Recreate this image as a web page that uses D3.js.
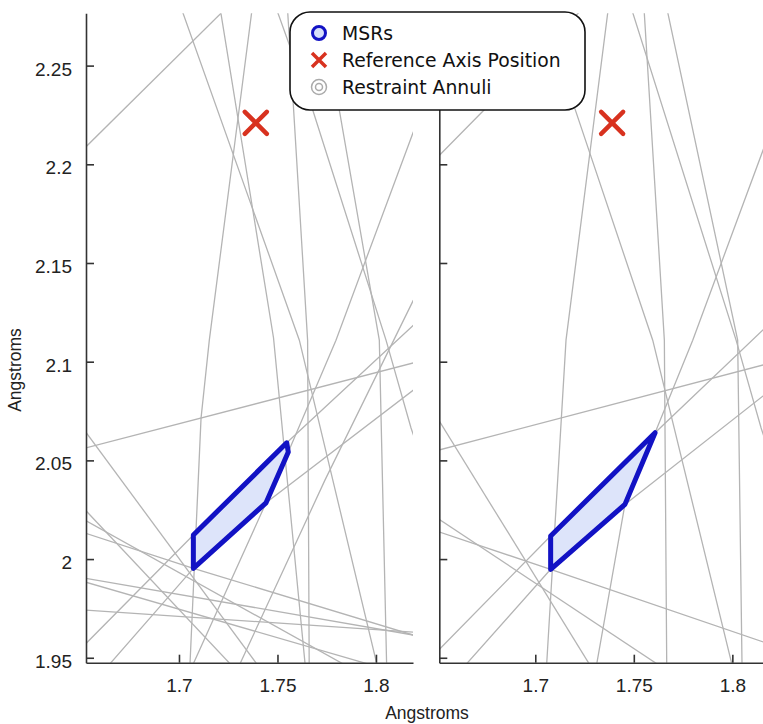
<!DOCTYPE html>
<html>
<head>
<meta charset="utf-8">
<script src="https://cdn.jsdelivr.net/npm/d3@7"></script>
<style>
  body { margin: 0; background: #fff; }
  svg { display: block; }
</style>
</head>
<body>
<div id="chart"></div>
<script>

// ---- data (Angstroms) ----
var yTicks = [1.95, 2, 2.05, 2.1, 2.15, 2.2, 2.25]
var yTickLabels = ["1.95", "2", "2.05", "2.1", "2.15", "2.2", "2.25"]
var xTicks = [1.7, 1.75, 1.8]
var xTickLabels = ["1.7", "1.75", "1.8"]

var refAxis = [1.739, 2.221]

var msrLeft = [[1.7073,1.9953],[1.7073,2.0122],[1.7547,2.0589],[1.7555,2.0542],[1.7442,2.0285]]
var msrRight = [[1.7078,1.9948],[1.7078,2.0117],[1.7608,2.0640],[1.7455,2.0277]]

// restraint annuli arcs, as polylines
var annuliLeft = [
  [[1.652,2.2081],[1.7213,2.2765]],
  [[1.7019,2.277],[1.7611,2.1109],[1.8004,1.947]],
  [[1.7213,2.2765],[1.7480,2.1120],[1.7640,1.947]],
  [[1.7369,2.277],[1.7154,2.1109],[1.7112,2.0714],[1.7056,1.947]],
  [[1.7501,2.277],[1.7679,2.2275],[1.8051,2.1109],[1.8178,2.0664],[1.8200,2.0600]],
  [[1.7552,2.277],[1.7653,2.1109],[1.7661,1.947]],
  [[1.7728,2.277],[1.7814,2.2275],[1.8017,2.1109],[1.8054,1.947]],
  [[1.819,2.2165],[1.7797,2.1109],[1.7555,2.0542],[1.7442,2.0285],[1.7242,1.9843],[1.7073,1.947]],
  [[1.652,2.0653],[1.7394,1.947]],
  [[1.652,2.0561],[1.819,2.0994]],
  [[1.652,2.0253],[1.7259,1.947]],
  [[1.652,2.0198],[1.7831,1.947]],
  [[1.652,2.0133],[1.7073,1.9953],[1.819,1.9615]],
  [[1.652,1.9904],[1.819,1.9615]],
  [[1.652,1.9885],[1.7954,1.947]],
  [[1.652,1.9742],[1.819,1.9630]],
  [[1.652,1.9564],[1.7073,2.0122],[1.7547,2.0589],[1.819,2.1185]],
  [[1.6650,1.947],[1.7073,1.9953],[1.7442,2.0285],[1.819,2.0856]],
  [[1.7310,1.947],[1.7741,2.0400],[1.819,2.1312]]
]

var annuliRight = [
  [[1.651,2.2042],[1.6745,2.2280],[1.7222,2.277]],
  [[1.7039,2.277],[1.7198,2.2291],[1.7596,2.1109],[1.7997,1.947]],
  [[1.7368,2.277],[1.7156,2.1109],[1.7058,1.947]],
  [[1.7494,2.277],[1.8019,2.1109],[1.8146,2.0664],[1.8200,2.0500]],
  [[1.7553,2.277],[1.7655,2.1109],[1.7667,1.947]],
  [[1.7672,2.277],[1.8027,2.1109],[1.8049,1.947]],
  [[1.8186,2.2153],[1.8156,2.2072],[1.7799,2.1109],[1.7608,2.0640],[1.7455,2.0277],[1.7312,1.947]],
  [[1.651,2.0704],[1.7273,1.947]],
  [[1.651,2.0552],[1.8186,2.0991]],
  [[1.651,2.0203],[1.7616,1.947]],
  [[1.651,2.0138],[1.7078,1.9948],[1.8186,1.9570]],
  [[1.651,1.9539],[1.7078,2.0117],[1.7608,2.0640],[1.8186,2.1190]],
  [[1.6652,1.947],[1.7078,1.9948],[1.7455,2.0277],[1.8186,2.0850]]
]

var legendLabels = ["MSRs", "Reference Axis Position", "Restraint Annuli"]

// ---- drawing ----
var width = 763, height = 724
var svg = d3.select("#chart").append("svg")
    .attr("width", width)
    .attr("height", height)
    .style("font-family", "'Liberation Sans', Arial, sans-serif")

var y = d3.scaleLinear().domain([1.9475, 2.2765]).range([662.7, 13.3])

var panels = [
  {x0: 86, x: d3.scaleLinear().domain([1.6528, 1.8188]).range([86, 413]), msr: msrLeft, lines: annuliLeft, labels: true},
  {x0: 439.3, x: d3.scaleLinear().domain([1.6513, 1.8186]).range([439.3, 769]), msr: msrRight, lines: annuliRight, labels: false}
]

var defs = svg.append("defs")

panels.forEach(function(p, i){
  var xr = p.x.range()
  defs.append("clipPath").attr("id", "clip" + i)
    .append("rect")
      .attr("x", xr[0]).attr("y", y.range()[1])
      .attr("width", xr[1] - xr[0]).attr("height", y.range()[0] - y.range()[1])

  var g = svg.append("g")

  var line = d3.line()
      .x(function(d){ return p.x(d[0]) })
      .y(function(d){ return y(d[1]) })

  var plot = g.append("g").attr("clip-path", "url(#clip" + i + ")")

  plot.selectAll("path.annulus")
    .data(p.lines)
    .enter().append("path")
      .attr("class", "annulus")
      .attr("fill", "none")
      .attr("stroke", "#b4b4b4")
      .attr("stroke-width", 1.3)
      .attr("d", line)

  plot.append("path")
    .datum(p.msr)
    .attr("fill", "#dde4fa")
    .attr("stroke", "#1212c4")
    .attr("stroke-width", 5)
    .attr("stroke-linejoin", "round")
    .attr("d", function(d){ return line(d) + "Z" })

  // reference axis X
  var cx = p.x(refAxis[0]), cy = y(refAxis[1]), s = 11
  plot.append("path")
    .attr("d", "M" + (cx - s) + "," + (cy - s) + "L" + (cx + s) + "," + (cy + s) +
               "M" + (cx - s) + "," + (cy + s) + "L" + (cx + s) + "," + (cy - s))
    .attr("stroke", "#d8321f")
    .attr("stroke-width", 4.5)
    .attr("stroke-linecap", "round")

  // axes
  var ya = g.append("g")
    .attr("transform", "translate(" + p.x0 + ",0)")
    .call(d3.axisLeft(y).tickValues(yTicks)
      .tickFormat(function(d, k){ return p.labels ? yTickLabels[k] : "" })
      .tickSizeInner(-8).tickSizeOuter(0).tickPadding(14))

  var xa = g.append("g")
    .attr("transform", "translate(0," + y.range()[0] + ")")
    .call(d3.axisBottom(p.x).tickValues(xTicks)
      .tickFormat(function(d, k){ return xTickLabels[k] })
      .tickSizeInner(-8).tickSizeOuter(0).tickPadding(16))

  ;[ya, xa].forEach(function(a){
    a.select(".domain").attr("stroke", "#333").attr("stroke-width", 1.6)
    a.selectAll(".tick line").attr("stroke", "#333").attr("stroke-width", 1.6)
    a.selectAll(".tick text").attr("fill", "#222").style("font-size", "19px")
        .style("font-family", "'Liberation Sans', Arial, sans-serif")
  })
  ya.selectAll(".tick text").attr("dy", "0.5em")
})

// axis titles
svg.append("text")
  .attr("x", 427).attr("y", 719)
  .attr("text-anchor", "middle")
  .style("font-size", "17.5px").attr("fill", "#222")
  .text("Angstroms")

svg.append("text")
  .attr("transform", "translate(21,370) rotate(-90)")
  .attr("text-anchor", "middle")
  .style("font-size", "17.5px").attr("fill", "#222")
  .text("Angstroms")

// legend
var lg = svg.append("g").attr("transform", "translate(290,12)")
lg.append("rect")
  .attr("width", 295).attr("height", 98)
  .attr("rx", 20).attr("ry", 20)
  .attr("fill", "#fff").attr("stroke", "#111").attr("stroke-width", 1.6)

var rows = lg.selectAll("g.row").data(legendLabels).enter().append("g")
  .attr("class", "row")
  .attr("transform", function(d, i){ return "translate(29," + (21 + i * 27) + ")" })

rows.append("text")
  .attr("x", 23).attr("y", 7)
  .style("font-family", "'DejaVu Sans', sans-serif")
  .style("font-size", "18.8px").attr("fill", "#111")
  .text(function(d){ return d })

var r0 = d3.select(rows.nodes()[0])
r0.append("circle").attr("r", 6.5).attr("fill", "#d6defa").attr("stroke", "#1212c4").attr("stroke-width", 3)

var r1 = d3.select(rows.nodes()[1])
r1.append("path").attr("d", "M-7,-7L7,7M-7,7L7,-7")
  .attr("stroke", "#d8321f").attr("stroke-width", 3.5)

var r2 = d3.select(rows.nodes()[2])
r2.append("circle").attr("r", 7.5).attr("fill", "none").attr("stroke", "#aaa").attr("stroke-width", 1.5)
r2.append("circle").attr("r", 3.5).attr("fill", "none").attr("stroke", "#aaa").attr("stroke-width", 1.5)

</script>
</body>
</html>
